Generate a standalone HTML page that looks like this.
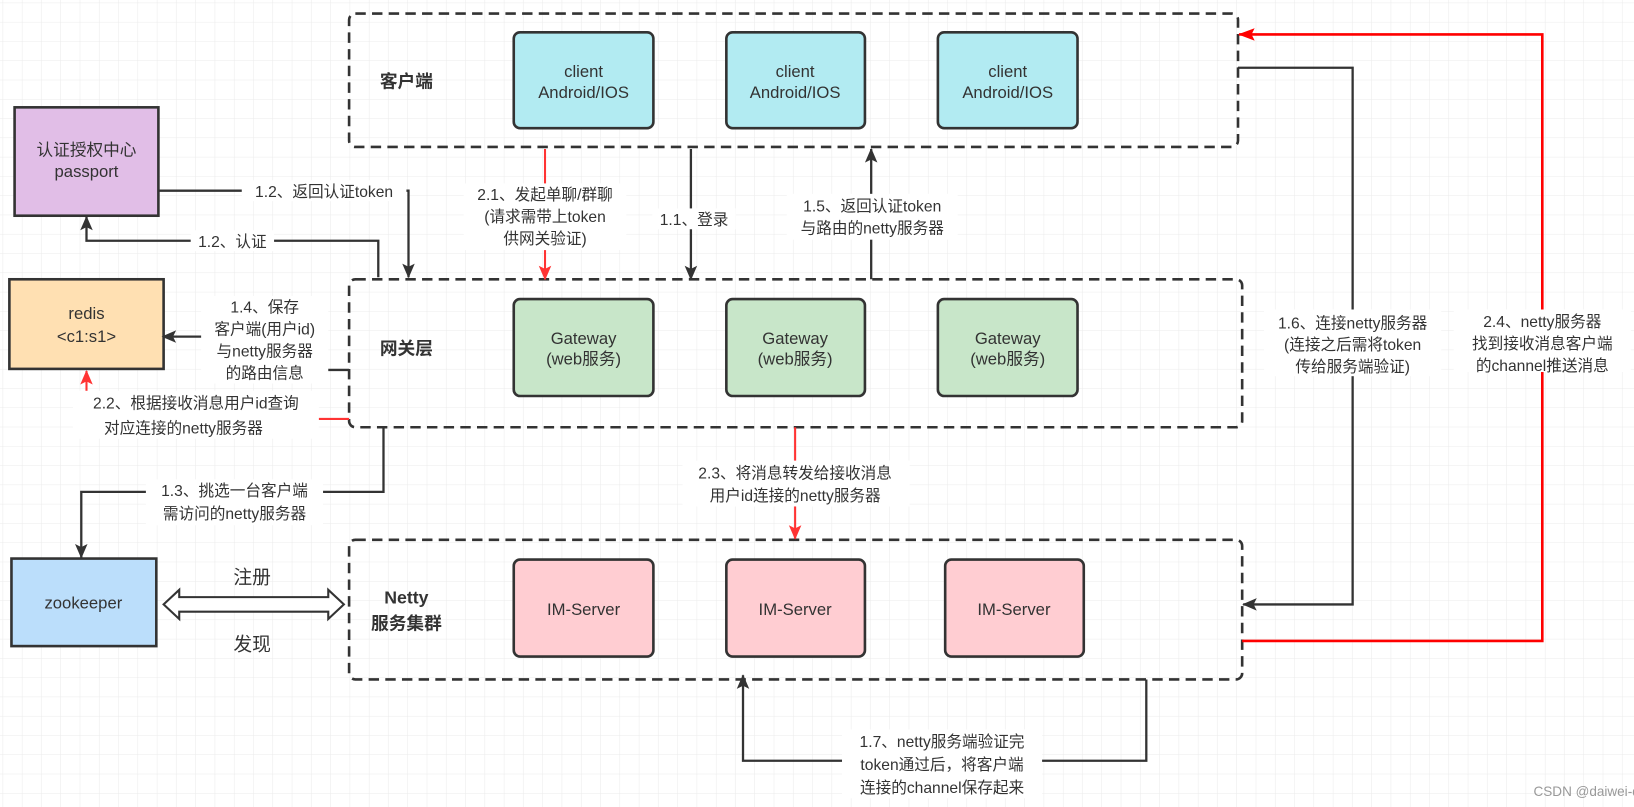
<!DOCTYPE html>
<html><head><meta charset="utf-8"><style>
html,body{margin:0;padding:0;background:#fff}
svg{display:block}
svg text{font-family:"Liberation Sans","Noto Sans CJK SC",sans-serif;fill:#333}
</style></head><body>
<svg width="1634" height="807" viewBox="0 0 1568 774.4" preserveAspectRatio="none" xmlns="http://www.w3.org/2000/svg">
<defs>
<pattern id="g" width="18.5" height="18.5" patternUnits="userSpaceOnUse" x="3" y="3">
<path d="M18.5 0V18.5M0 18.5H18.5" stroke="#ebebeb" stroke-width="1" fill="none"/>
</pattern>
<marker id="ab" markerWidth="14" markerHeight="14" refX="13" refY="7" orient="auto" markerUnits="userSpaceOnUse"><path d="M0,1L14,7L0,13L3,7Z" fill="#333"/></marker>
<marker id="ar" markerWidth="14" markerHeight="14" refX="13" refY="7" orient="auto" markerUnits="userSpaceOnUse"><path d="M0,1L14,7L0,13L3,7Z" fill="#f33"/></marker>
<marker id="arr" markerWidth="16" markerHeight="14" refX="15" refY="7" orient="auto" markerUnits="userSpaceOnUse"><path d="M0,1L16,7L0,13L3,7Z" fill="#f00"/></marker>
</defs>
<rect width="1568" height="775" fill="url(#g)"/>

<g fill="none" stroke="#333" stroke-width="2.5" stroke-dasharray="10,6">
<rect x="335" y="13" width="853" height="128" rx="6"/>
<rect x="335" y="268" width="857" height="142" rx="6"/>
<rect x="335" y="518" width="857" height="134" rx="6"/>
</g>
<g font-weight="bold" font-size="17" text-anchor="middle">
<text x="390" y="84">客户端</text>
<text x="390" y="340">网关层</text>
<text x="390" y="579">Netty</text>
<text x="390" y="604">服务集群</text>
</g>

<g stroke="#333" stroke-width="2.5">
<rect x="493" y="31" width="134" height="92" rx="6" fill="#b2ebf2"/>
<rect x="697" y="31" width="133" height="92" rx="6" fill="#b2ebf2"/>
<rect x="900" y="31" width="134" height="92" rx="6" fill="#b2ebf2"/>
<rect x="493" y="287" width="134" height="93" rx="6" fill="#c8e6c9"/>
<rect x="697" y="287" width="133" height="93" rx="6" fill="#c8e6c9"/>
<rect x="900" y="287" width="134" height="93" rx="6" fill="#c8e6c9"/>
<rect x="493" y="537" width="134" height="93" rx="6" fill="#ffcdd2"/>
<rect x="697" y="537" width="133" height="93" rx="6" fill="#ffcdd2"/>
<rect x="907" y="537" width="133" height="93" rx="6" fill="#ffcdd2"/>
<rect x="14" y="103" width="138" height="104" fill="#e1bee7"/>
<rect x="9" y="268" width="148" height="86" fill="#ffe0b2"/>
<rect x="11" y="536" width="139" height="84" fill="#bbdefb"/>
</g>
<g font-size="16" text-anchor="middle">
<text x="560" y="74">client</text><text x="560" y="94">Android/IOS</text>
<text x="763" y="74">client</text><text x="763" y="94">Android/IOS</text>
<text x="967" y="74">client</text><text x="967" y="94">Android/IOS</text>
<text x="560" y="330">Gateway</text><text x="560" y="350">(web服务)</text>
<text x="763" y="330">Gateway</text><text x="763" y="350">(web服务)</text>
<text x="967" y="330">Gateway</text><text x="967" y="350">(web服务)</text>
<text x="560" y="590">IM-Server</text>
<text x="763" y="590">IM-Server</text>
<text x="973" y="590">IM-Server</text>
<text x="83" y="149">认证授权中心</text><text x="83" y="170">passport</text>
<text x="83" y="306">redis</text><text x="83" y="328">&lt;c1:s1&gt;</text>
<text x="80" y="584">zookeeper</text>
</g>

<g fill="none" stroke="#333" stroke-width="2.2">
<path d="M152,183H392V266" marker-end="url(#ab)"/>
<path d="M363,266V231H83V208" marker-end="url(#ab)"/>
<path d="M335,355H300V323H156" marker-end="url(#ab)"/>
<path d="M368,410V472H78V535" marker-end="url(#ab)"/>
<path d="M663,143V268" marker-end="url(#ab)"/>
<path d="M836,268V143" marker-end="url(#ab)"/>
<path d="M1188,65H1298V580H1193" marker-end="url(#ab)"/>
<path d="M1100,652V730H713V648" marker-end="url(#ab)"/>
</g>
<g fill="none" stroke="#f33" stroke-width="2">
<path d="M523,143V268" marker-end="url(#ar)"/>
<path d="M335,402H300V378M83,378V356" marker-end="url(#ar)"/>
<path d="M763,410V517" marker-end="url(#ar)"/>
</g>
<path d="M1192,615H1480V33H1189" fill="none" stroke="#f00" stroke-width="2.5" marker-end="url(#arr)"/>

<path d="M157,580L172,566V573H315V566L330,580L315,594V587H172V594Z" fill="#fff" stroke="#333" stroke-width="2"/>

<g font-size="15" text-anchor="middle">
<rect x="232" y="173" width="158" height="20" fill="#fff"/>
<text x="311" y="189">1.2、返回认证token</text>
<rect x="183" y="221" width="80" height="20" fill="#fff"/>
<text x="223" y="237">1.2、认证</text>
<rect x="193" y="284" width="122" height="84" fill="#fff"/>
<text x="254" y="300">1.4、保存</text>
<text x="254" y="321">客户端(用户id)</text>
<text x="254" y="342">与netty服务器</text>
<text x="254" y="363">的路由信息</text>
<rect x="70" y="375" width="236" height="46" fill="#fff"/>
<text x="188" y="392">2.2、根据接收消息用户id查询</text>
<text x="176" y="416">对应连接的netty服务器</text>
<rect x="140" y="460" width="170" height="44" fill="#fff"/>
<text x="225" y="476">1.3、挑选一台客户端</text>
<text x="225" y="498">需访问的netty服务器</text>
<rect x="445" y="176" width="156" height="64" fill="#fff"/>
<text x="523" y="192">2.1、发起单聊/群聊</text>
<text x="523" y="213">(请求需带上token</text>
<text x="523" y="234">供网关验证)</text>
<rect x="626" y="200" width="80" height="20" fill="#fff"/>
<text x="666" y="216">1.1、登录</text>
<rect x="755" y="186" width="164" height="44" fill="#fff"/>
<text x="837" y="203">1.5、返回认证token</text>
<text x="837" y="224">与路由的netty服务器</text>
<rect x="655" y="442" width="218" height="44" fill="#fff"/>
<text x="763" y="459">2.3、将消息转发给接收消息</text>
<text x="763" y="481">用户id连接的netty服务器</text>
<rect x="1213" y="297" width="170" height="64" fill="#fff"/>
<text x="1298" y="315">1.6、连接netty服务器</text>
<text x="1298" y="336">(连接之后需将token</text>
<text x="1298" y="357">传给服务端验证)</text>
<rect x="1395" y="297" width="170" height="60" fill="#fff"/>
<text x="1480" y="314">2.4、netty服务器</text>
<text x="1480" y="335">找到接收消息客户端</text>
<text x="1480" y="356">的channel推送消息</text>
<rect x="808" y="700" width="192" height="66" fill="#fff"/>
<text x="904" y="717">1.7、netty服务端验证完</text>
<text x="904" y="739">token通过后，将客户端</text>
<text x="904" y="761">连接的channel保存起来</text>
</g>
<g font-size="18" text-anchor="middle">
<text x="242" y="560">注册</text>
<text x="242" y="624">发现</text>
</g>
<text x="1533" y="764" font-size="13" text-anchor="middle" style="fill:#999">CSDN @daiwei-dave</text>
</svg>
</body></html>
